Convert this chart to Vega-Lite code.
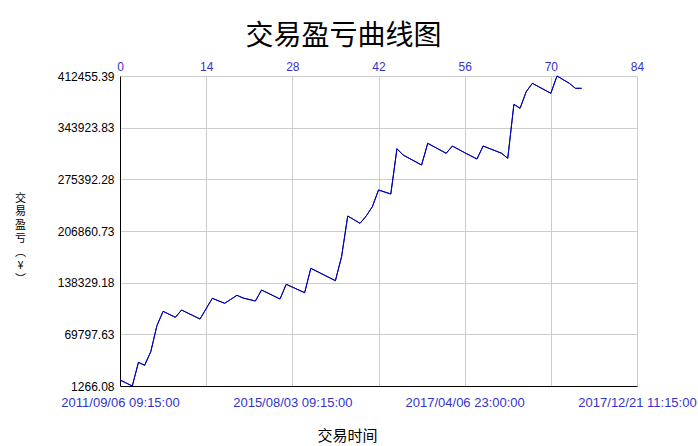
{
  "$schema": "https://vega.github.io/schema/vega-lite/v6.json",
  "width": 517,
  "height": 310,
  "autosize": "none",
  "padding": {"left": 120, "top": 76, "right": 61, "bottom": 60},
  "background": "white",
  "config": {"view": {"stroke": null}, "axis": {"labelFont": "Liberation Sans", "labelFontSize": 12, "titleFont": "Noto Sans CJK SC", "titleFontSize": 13, "titleFontWeight": "normal", "titleColor": "black", "gridColor": "#cccccc", "gridOpacity": 1, "ticks": false}},
  "title": {"text": "交易盈亏曲线图", "font": "Noto Sans CJK SC", "fontSize": 28, "fontWeight": "normal", "color": "black", "anchor": "middle", "dx": -35, "offset": 9},
  "data": {"values": [
    {"i": 0, "v": 9224}, {"i": 2, "v": 1266}, {"i": 3, "v": 32702}, {"i": 4, "v": 28722},
    {"i": 5, "v": 46762}, {"i": 6, "v": 81248}, {"i": 7, "v": 100348}, {"i": 9, "v": 92390},
    {"i": 10, "v": 102072}, {"i": 13, "v": 90135}, {"i": 15, "v": 117591}, {"i": 17, "v": 110959},
    {"i": 19, "v": 121570}, {"i": 20, "v": 117989}, {"i": 22, "v": 114010}, {"i": 23, "v": 128600},
    {"i": 26, "v": 116663}, {"i": 27, "v": 136161}, {"i": 30, "v": 125019}, {"i": 31, "v": 157383},
    {"i": 35, "v": 140936}, {"i": 36, "v": 172770}, {"i": 37, "v": 226754}, {"i": 39, "v": 217071},
    {"i": 40, "v": 226754}, {"i": 41, "v": 239090}, {"i": 42, "v": 261240}, {"i": 44, "v": 255935},
    {"i": 45, "v": 316021}, {"i": 46, "v": 307664}, {"i": 49, "v": 294400}, {"i": 50, "v": 323183},
    {"i": 53, "v": 309919}, {"i": 54, "v": 319602}, {"i": 56, "v": 310715}, {"i": 58, "v": 302359},
    {"i": 59, "v": 319602}, {"i": 62, "v": 309919}, {"i": 63, "v": 303287}, {"i": 64, "v": 374913},
    {"i": 65, "v": 369608}, {"i": 66, "v": 391626}, {"i": 67, "v": 402767}, {"i": 70, "v": 389503},
    {"i": 71, "v": 412450}, {"i": 73, "v": 402767}, {"i": 74, "v": 396135}, {"i": 75, "v": 396135}
  ]},
  "encoding": {
    "y": {"field": "v", "type": "quantitative",
      "scale": {"domain": [1266.08, 412455.39], "nice": false, "zero": false},
      "axis": {"values": [1266.08, 69797.63, 138329.18, 206860.73, 275392.28, 343923.83, 412455.39],
        "format": ".2f", "labelColor": "black", "domainColor": "black", "domainWidth": 1, "labelPadding": 6,
        "grid": true,
        "title": ["交", "易", "盈", "亏", "︵", "¥", "︶"],
        "titleAngle": 0, "titleX": -100, "titleY": 116, "titleBaseline": "top", "titleAlign": "center", "titleLineHeight": 13.5, "titleFontSize": 11}}
  },
  "layer": [
    {
      "mark": {"type": "line", "color": "#0000b0", "strokeWidth": 1},
      "encoding": {
        "x": {"field": "i", "type": "quantitative", "scale": {"domain": [0, 84], "nice": false},
          "axis": {"orient": "top", "values": [0, 14, 28, 42, 56, 70, 84], "grid": true, "domain": false,
            "labelColor": "#3333cc", "labelPadding": 3, "title": null, "labelBound": false, "labelFlush": false, "labelOverlap": false}}
      }
    },
    {
      "mark": {"type": "line", "color": "#0000b0", "strokeWidth": 1},
      "encoding": {
        "x": {"field": "i", "type": "quantitative", "scale": {"domain": [0, 84], "nice": false},
          "axis": {"orient": "bottom", "values": [0, 28, 56, 84], "grid": false, "domainColor": "black",
            "labelColor": "#3333cc", "labelPadding": 10, "labelDx": -4, "labelFontSize": 13, "labelBound": false, "labelFlush": false, "labelOverlap": false,
            "labelExpr": "datum.value == 0 ? '2011/09/06 09:15:00' : datum.value == 28 ? '2015/08/03 09:15:00' : datum.value == 56 ? '2017/04/06 23:00:00' : '2017/12/21 11:15:00'",
            "title": "交易时间", "titleX": 227, "titlePadding": 19, "titleAlign": "center", "titleFontSize": 15}}
      }
    }
  ],
  "resolve": {"scale": {"x": "independent"}}
}
